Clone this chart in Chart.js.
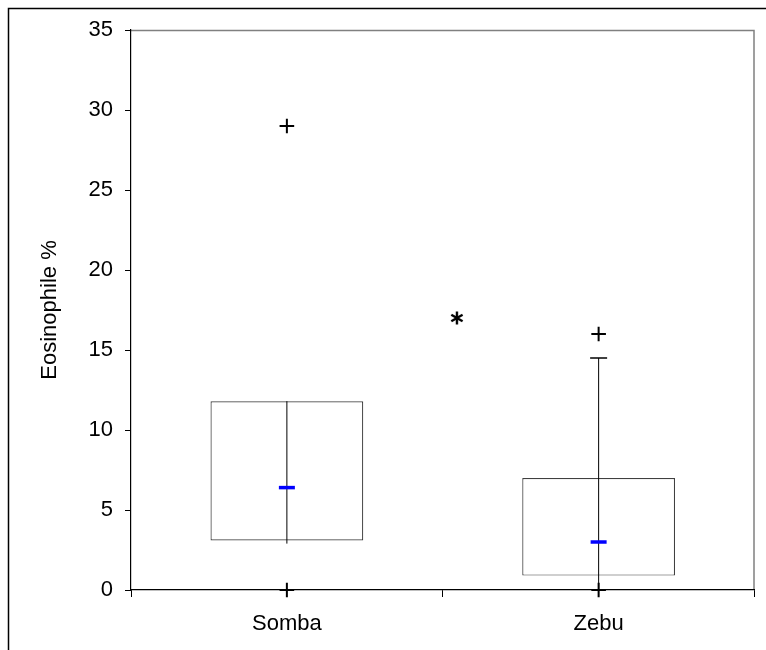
<!DOCTYPE html>
<html>
<head>
<meta charset="utf-8">
<script src="https://cdn.jsdelivr.net/npm/chart.js@4.4.1/dist/chart.umd.min.js"></script>
<style>
  html, body { margin: 0; padding: 0; background: #ffffff; }
  #wrap { position: relative; width: 766px; height: 650px; overflow: hidden; }
</style>
</head>
<body>
<div id="wrap"><canvas id="c" width="766" height="650"></canvas></div>
<script>
// ---- data ----
const categories   = ['Somba', 'Zebu'];
const q1           = [3.1, 0.9];
const q3           = [11.8, 7.0];
const medians      = [6.4, 3.0];
const whiskerLow   = [2.9, 0.0];
const whiskerHigh  = [11.8, 14.5];
const outlierCat   = ['Somba', 'Somba', 'Zebu', 'Zebu'];
const outlierVal   = [0, 29, 0, 16];
const markX        = [1.05];   // significance asterisk, position in category units
const markY        = [17.0];
const yTicks       = [0, 5, 10, 15, 20, 25, 30, 35];
const yTitle       = 'Eosinophile %';

const FONT = "'Liberation Sans', Arial, sans-serif";

// asterisk point style
function makeAsterisk() {
  const c = document.createElement('canvas');
  c.width = 18; c.height = 18;
  const g = c.getContext('2d');
  g.strokeStyle = '#000';
  g.lineWidth = 2.4;
  g.lineCap = 'butt';
  const cx = 9, cy = 9, r = 6.5;
  [90, 30, 150].forEach(a => {
    const t = a * Math.PI / 180;
    g.beginPath();
    g.moveTo(cx - r * Math.cos(t), cy - r * Math.sin(t));
    g.lineTo(cx + r * Math.cos(t), cy + r * Math.sin(t));
    g.stroke();
  });
  return c;
}

const whiskerSets = categories.map((cat, i) => ({
  type: 'line',
  data: [{x: cat, y: whiskerLow[i]}, {x: cat, y: whiskerHigh[i]}],
  borderColor: '#000',
  borderWidth: 1,
  pointRadius: 0,
  order: 5,
  clip: false
}));

// caps only where the whisker reaches beyond the box
const capData = categories
  .map((c, i) => ({x: c, y: whiskerHigh[i], show: whiskerHigh[i] > q3[i]}))
  .filter(d => d.show)
  .map(d => ({x: d.x, y: d.y}));

const frame = {
  id: 'frame',
  beforeDraw(chart) {
    const ctx = chart.ctx;
    ctx.save();
    ctx.fillStyle = '#fff';
    ctx.fillRect(0, 0, chart.width, chart.height);
    ctx.strokeStyle = '#000';
    ctx.lineWidth = 1.5;
    ctx.beginPath();
    ctx.moveTo(8.5, chart.height);
    ctx.lineTo(8.5, 8.5);
    ctx.lineTo(chart.width, 8.5);
    ctx.stroke();
    const a = chart.chartArea;
    ctx.strokeStyle = '#808080';
    ctx.lineWidth = 1.5;
    ctx.beginPath();
    ctx.moveTo(a.left, a.top + 0.5);
    ctx.lineTo(a.right - 0.5, a.top + 0.5);
    ctx.lineTo(a.right - 0.5, a.bottom);
    ctx.stroke();
    ctx.restore();
  }
};

new Chart(document.getElementById('c'), {
  type: 'bar',
  data: {
    labels: categories,
    datasets: [
      {
        type: 'bar',
        data: categories.map((c, i) => [q1[i], q3[i]]),
        backgroundColor: '#ffffff',
        borderColor: '#404040',
        borderWidth: 1.2,
        borderSkipped: false,
        grouped: false,
        barPercentage: 0.49,
        categoryPercentage: 1.0,
        order: 10
      },
      ...whiskerSets,
      {
        type: 'line',
        data: capData,
        showLine: false,
        pointStyle: 'line',
        pointRadius: 8.5,
        pointBorderWidth: 1.5,
        borderColor: '#000',
        order: 4,
        clip: false
      },
      {
        type: 'line',
        data: categories.map((c, i) => ({x: c, y: medians[i]})),
        showLine: false,
        pointStyle: 'line',
        pointRadius: 8,
        pointBorderWidth: 3.5,
        borderColor: '#0000ff',
        order: 3,
        clip: false
      },
      {
        type: 'line',
        data: outlierCat.map((c, i) => ({x: c, y: outlierVal[i]})),
        showLine: false,
        pointStyle: 'cross',
        pointRadius: 7.3,
        pointBorderWidth: 2,
        borderColor: '#000',
        order: 2,
        clip: false
      },
      {
        type: 'line',
        xAxisID: 'x2',
        data: markX.map((x, i) => ({x: x, y: markY[i]})),
        showLine: false,
        pointStyle: makeAsterisk(),
        pointRadius: 9,
        order: 1,
        clip: false
      }
    ]
  },
  options: {
    responsive: false,
    animation: false,
    events: [],
    layout: { padding: { top: 30, right: 9, bottom: 0, left: 0 } },
    plugins: { legend: { display: false }, tooltip: { enabled: false } },
    scales: {
      x: {
        type: 'category',
        offset: true,
        grid: { offset: true, drawOnChartArea: false, tickLength: 7, color: '#000', lineWidth: 1 },
        border: { color: '#000', width: 1.2 },
        ticks: { color: '#000', font: { family: FONT, size: 22 }, padding: 14, maxRotation: 0 },
        afterFit: s => { s.height = 60; }
      },
      x2: {
        type: 'linear',
        min: 0, max: 2,
        display: false
      },
      y: {
        min: 0, max: 35,
        afterBuildTicks: s => { s.ticks = yTicks.map(v => ({value: v})); },
        grid: { drawOnChartArea: false, tickLength: 6, color: '#000', lineWidth: 1 },
        border: { color: '#000', width: 1.2 },
        ticks: { color: '#000', font: { family: FONT, size: 22 }, padding: 12 },
        title: { display: true, text: yTitle, color: '#000', font: { family: FONT, size: 22 }, padding: { top: 37, bottom: 0 } },
        afterFit: s => { s.width = 131; }
      }
    }
  },
  plugins: [frame]
});
</script>
</body>
</html>
